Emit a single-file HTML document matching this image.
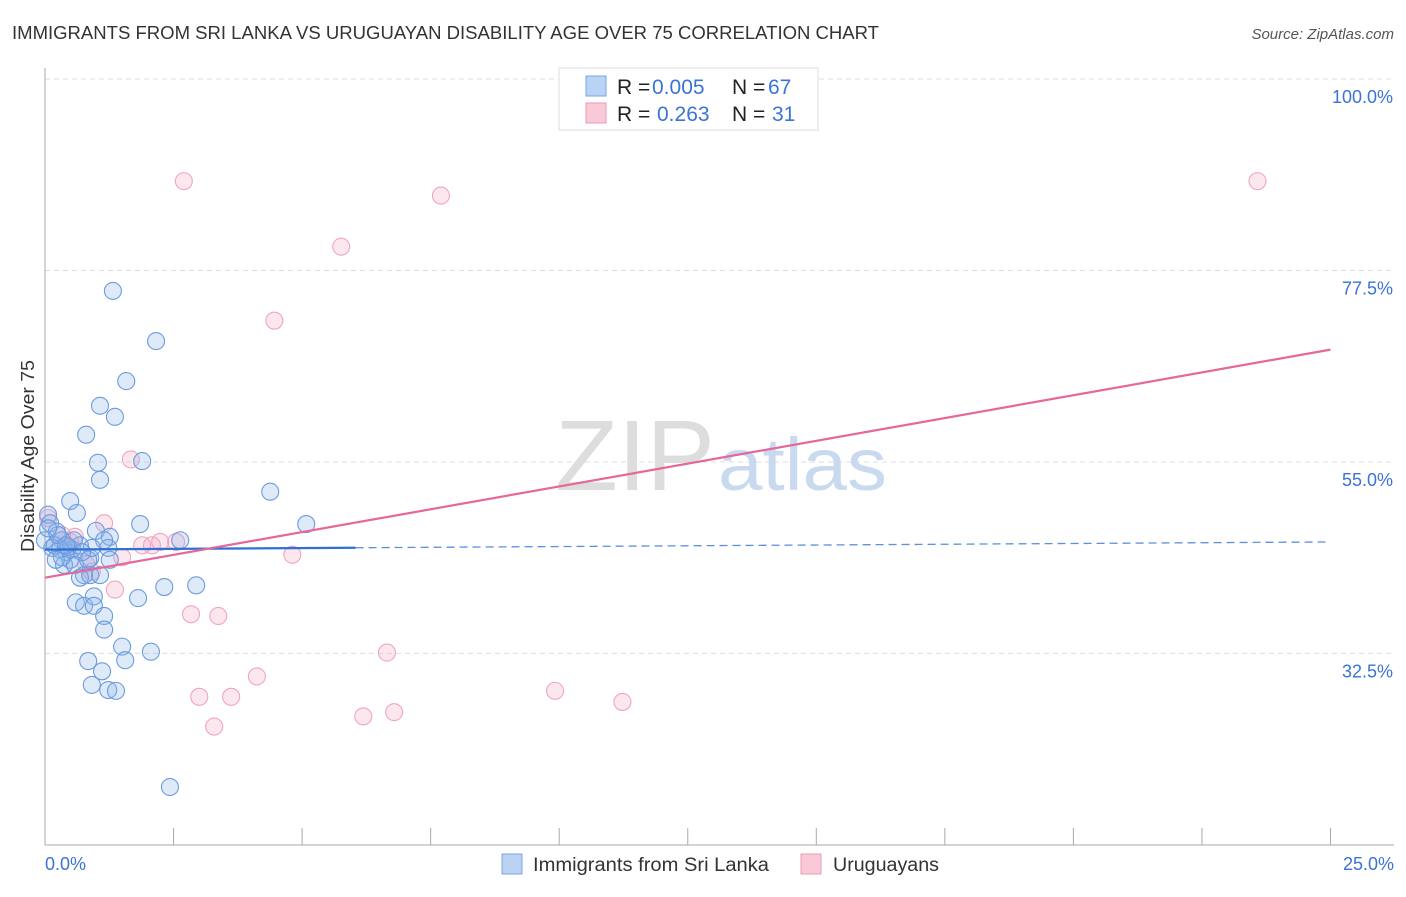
<!DOCTYPE html>
<html><head><meta charset="utf-8"><style>
body{margin:0;background:#fff;width:1406px;height:892px;overflow:hidden;font-family:"Liberation Sans",sans-serif}
svg text{font-family:"Liberation Sans",sans-serif}
</style></head><body>
<svg id="chart" width="1406" height="892">
<text x="12" y="39" font-size="18" fill="#333" textLength="867" lengthAdjust="spacingAndGlyphs">IMMIGRANTS FROM SRI LANKA VS URUGUAYAN DISABILITY AGE OVER 75 CORRELATION CHART</text>
<text x="1394" y="39" font-size="15" fill="#555" font-style="italic" text-anchor="end">Source: ZipAtlas.com</text>
<g id="grid"></g>
<text x="715" y="490" font-size="100" fill="#ddd" text-anchor="end" font-family="Liberation Serif" textLength="160" lengthAdjust="spacingAndGlyphs">ZIP</text>
<text x="718" y="490" font-size="74" fill="#c9daf0" textLength="169" lengthAdjust="spacingAndGlyphs">atlas</text>
<line x1="45" y1="68" x2="45" y2="845" stroke="#aaa"/>
<line x1="45" y1="845" x2="1394" y2="845" stroke="#aaa"/>
<g id="ticks"></g>
<g id="pts"></g>
<g id="lines"></g>
<text x="34" y="456" font-size="18" fill="#333" transform="rotate(-90 34 456)" text-anchor="middle" textLength="192" lengthAdjust="spacingAndGlyphs">Disability Age Over 75</text>
<text x="45" y="870" font-size="18" fill="#3b73d6">0.0%</text>
<text x="1394" y="870" font-size="18" fill="#3b73d6" text-anchor="end">25.0%</text>
<g>
<rect x="559" y="68" width="259" height="62" fill="#fff" stroke="#ddd"/>
<rect x="586" y="76" width="20" height="20" fill="#b9d3f5" stroke="#7aa6e8"/>
<rect x="586" y="103" width="20" height="20" fill="#f9c9d8" stroke="#ee9ab5"/>
<text y="94" font-size="21"><tspan x="617" fill="#222">R = </tspan><tspan x="652" fill="#3b73d6">0.005</tspan><tspan x="732" fill="#222">N = </tspan><tspan x="768" fill="#3b73d6">67</tspan></text>
<text y="121" font-size="21"><tspan x="617" fill="#222">R = </tspan><tspan x="657" fill="#3b73d6">0.263</tspan><tspan x="732" fill="#222">N = </tspan><tspan x="772" fill="#3b73d6">31</tspan></text>
</g>
<g>
<rect x="502" y="854" width="20" height="20" fill="#b9d3f5" stroke="#7aa6e8"/>
<text x="533" y="871" font-size="19" fill="#333" textLength="236" lengthAdjust="spacingAndGlyphs">Immigrants from Sri Lanka</text>
<rect x="801" y="854" width="20" height="20" fill="#f9c9d8" stroke="#ee9ab5"/>
<text x="833" y="871" font-size="19" fill="#333" textLength="106" lengthAdjust="spacingAndGlyphs">Uruguayans</text>
</g>
</svg>
<script>
const yTicks=[100,77.5,55,32.5];
const yTickLabels=["100.0%","77.5%","55.0%","32.5%"];
const xTicks=[0,2.5,5,7.5,10,12.5,15,17.5,20,22.5,25];
const blueX=[1.32,2.16,1.58,1.07,1.36,0.80,1.03,1.89,1.07,0.49,0.62,0.06,0.10,1.85,4.38,5.08,0.99,1.26,1.23,2.63,0.23,0.33,0.14,0.29,0.41,0.53,0.68,0.88,0.49,0.37,0.58,0.76,0.68,0.88,0.84,1.15,2.32,2.94,1.81,0.60,0.76,0.95,0.95,1.15,1.15,1.50,1.56,2.06,0.84,1.11,0.91,1.23,1.38,2.43,0,0.19,0.45,0.25,0.06,0.33,0.56,1.26,1.07,0.21,0.41,0.91,0.72];
const blueY=[75.1,69.2,64.5,61.6,60.3,58.2,54.9,55.1,52.9,50.4,49.0,48.8,47.8,47.7,51.5,47.7,46.9,46.2,44.9,45.8,46.8,45.8,44.9,44.7,44.4,44.7,45.2,43.7,43.5,42.9,42.9,41.7,41.4,41.7,43.5,45.8,40.3,40.5,39.0,38.5,38.1,39.2,38.1,36.9,35.3,33.3,31.7,32.7,31.6,30.4,28.8,28.2,28.1,16.8,45.8,45.2,45.0,46.4,47.2,43.8,45.8,43.5,41.7,43.5,45.2,44.9,44.4];
const pinkX=[2.70,7.70,5.76,4.46,1.67,1.15,0.06,0.33,0.58,2.24,2.55,1.89,2.08,4.81,1.50,0.91,1.36,2.84,3.37,6.65,4.12,3.00,3.62,6.19,6.79,3.29,9.92,11.23,23.58,0.80,0.49];
const pinkY=[88.0,86.3,80.3,71.6,55.3,47.8,48.4,46.4,46.2,45.6,45.6,45.2,45.2,44.1,43.8,42.1,40.0,37.1,36.9,32.6,29.8,27.4,27.4,25.1,25.6,23.9,28.1,26.8,88.0,43.0,45.6];
const blueTrend=[44.7,45.6];
const pinkTrend=[41.4,68.2];
const NS="http://www.w3.org/2000/svg";
const X=v=>45+v*51.42;
const Y=v=>79+(100-v)*8.51;
function mk(t,a,p){const e=document.createElementNS(NS,t);for(const k in a)e.setAttribute(k,a[k]);p.appendChild(e);return e;}
const grid=document.getElementById('grid');
yTicks.forEach((v,i)=>{
 const l=mk('line',{x1:45,x2:1394,y1:Y(v),y2:Y(v),stroke:'#ddd','stroke-dasharray':'5,4'},grid);
 
 
 const t=mk('text',{x:1393,y:Y(v)+24,'font-size':18,fill:'#3b73d6','text-anchor':'end'},grid);
 t.textContent=yTickLabels[i];
 
 
});
const tk=document.getElementById('ticks');
xTicks.forEach(v=>{
 const l=mk('line',{x1:X(v),x2:X(v),y1:828,y2:845,stroke:'#aaa'},tk);
 
 
});
const pts=document.getElementById('pts');
pinkX.forEach((x,i)=>{
 const c=mk('circle',{cx:X(x),cy:Y(pinkY[i]),r:8.5,fill:'rgba(244,160,190,0.25)',stroke:'#f0a5bf','stroke-width':1.1},pts);
 
 
});
blueX.forEach((x,i)=>{
 const c=mk('circle',{cx:X(x),cy:Y(blueY[i]),r:8.5,fill:'rgba(140,180,235,0.28)',stroke:'#6a9be0','stroke-width':1.1},pts);
 
 
});
const ln=document.getElementById('lines');
const bMid=blueTrend[0]+(blueTrend[1]-blueTrend[0])*(6.04/25);
const b1=mk('line',{x1:X(0),y1:Y(blueTrend[0]),x2:X(6.04),y2:Y(bMid),stroke:'#2f6fd6','stroke-width':2.2},ln);


const b2=mk('line',{x1:X(6.04),y1:Y(bMid),x2:X(25),y2:Y(blueTrend[1]),stroke:'#5a90dd','stroke-width':1.3,'stroke-dasharray':'8,5'},ln);


const p1=mk('line',{x1:X(0),y1:Y(pinkTrend[0]),x2:X(25),y2:Y(pinkTrend[1]),stroke:'#e4689a','stroke-width':2.2},ln);


</script>
</body></html>
